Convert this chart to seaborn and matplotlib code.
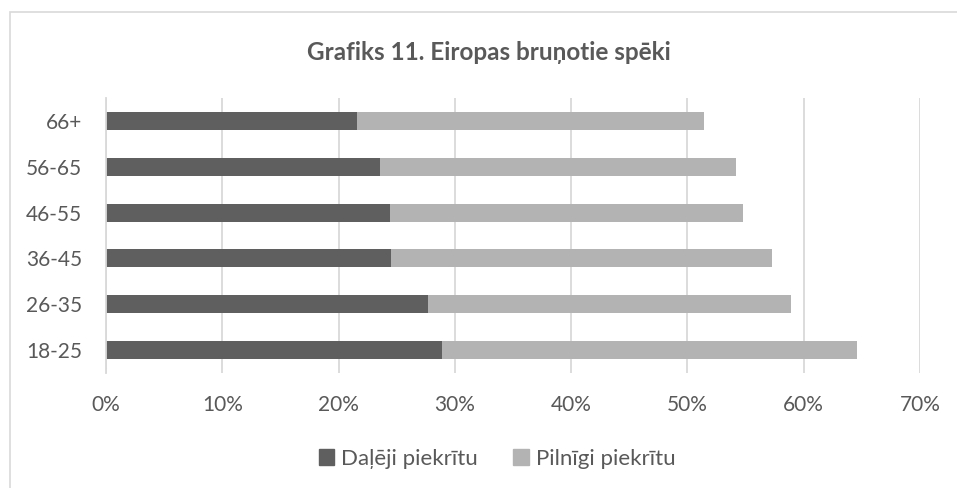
import matplotlib
matplotlib.use("Agg")
import matplotlib.pyplot as plt
import matplotlib.patches as mpatches
import seaborn as sns
import pandas as pd

categories = ["66+", "56-65", "46-55", "36-45", "26-35", "18-25"]
dalji = [21.6, 23.6, 24.4, 24.5, 27.7, 28.9]
pilnigi = [29.8, 30.6, 30.4, 32.8, 31.2, 35.7]
series_names = ["Daļēji piekrītu", "Pilnīgi piekrītu"]
xticks = [0, 10, 20, 30, 40, 50, 60, 70]
title = "Grafiks 11. Eiropas bruņotie spēki"

dark = "#5f5f5f"
light = "#b3b3b3"
grid = "#d9d9d9"
txt = "#595959"

sns.set_theme(style="white")
plt.rcParams["font.family"] = ["Lato", "DejaVu Sans"]

df = pd.DataFrame({
    "cat": categories,
    "dalji": dalji,
    "total": [a + b for a, b in zip(dalji, pilnigi)],
})

fig = plt.figure(figsize=(9.57, 4.88), dpi=100)
ax = fig.add_axes([106 / 957, 1 - 373 / 488, (920 - 106) / 957, (373 - 98) / 488])

sns.barplot(data=df, y="cat", x="total", order=categories, color=light,
            width=0.39, orient="h", ax=ax, saturation=1, linewidth=0)
sns.barplot(data=df, y="cat", x="dalji", order=categories, color=dark,
            width=0.39, orient="h", ax=ax, saturation=1, linewidth=0)

ax.set_xlim(0, 70)
ax.set_ylim(5.5, -0.5)
ax.set_xticks(xticks)
ax.set_xticklabels([f"{t}%" for t in xticks])
ax.set_xlabel("")
ax.set_ylabel("")
ax.xaxis.grid(True, color=grid, linewidth=1.3)
ax.set_axisbelow(True)
for s in ["top", "right", "bottom"]:
    ax.spines[s].set_visible(False)
ax.spines["left"].set_color(grid)
ax.spines["left"].set_linewidth(1.3)
ax.tick_params(axis="x", length=0, pad=16, labelsize=15, labelcolor=txt)
ax.tick_params(axis="y", length=0, pad=17, labelsize=15, labelcolor=txt)

fig.text(489 / 957, 1 - 52 / 488, title, ha="center", va="center",
         fontsize=17.5, fontweight="bold", color=txt)

handles = [mpatches.Patch(color=dark, label=series_names[0]),
           mpatches.Patch(color=light, label=series_names[1])]
leg = fig.legend(handles=handles, loc="center", bbox_to_anchor=(497 / 957, 1 - 459 / 488),
                 ncol=2, frameon=False, fontsize=16, handlelength=0.7, handleheight=0.7,
                 handletextpad=0.3, columnspacing=1.6)
for t in leg.get_texts():
    t.set_color(txt)

border = mpatches.Rectangle((10 / 957, -0.1), 1.2, 1 - 12 / 488 + 0.1, transform=fig.transFigure,
                            fill=False, edgecolor=grid, linewidth=1.2)
fig.patches.append(border)

fig.savefig("out.png", dpi=100)
